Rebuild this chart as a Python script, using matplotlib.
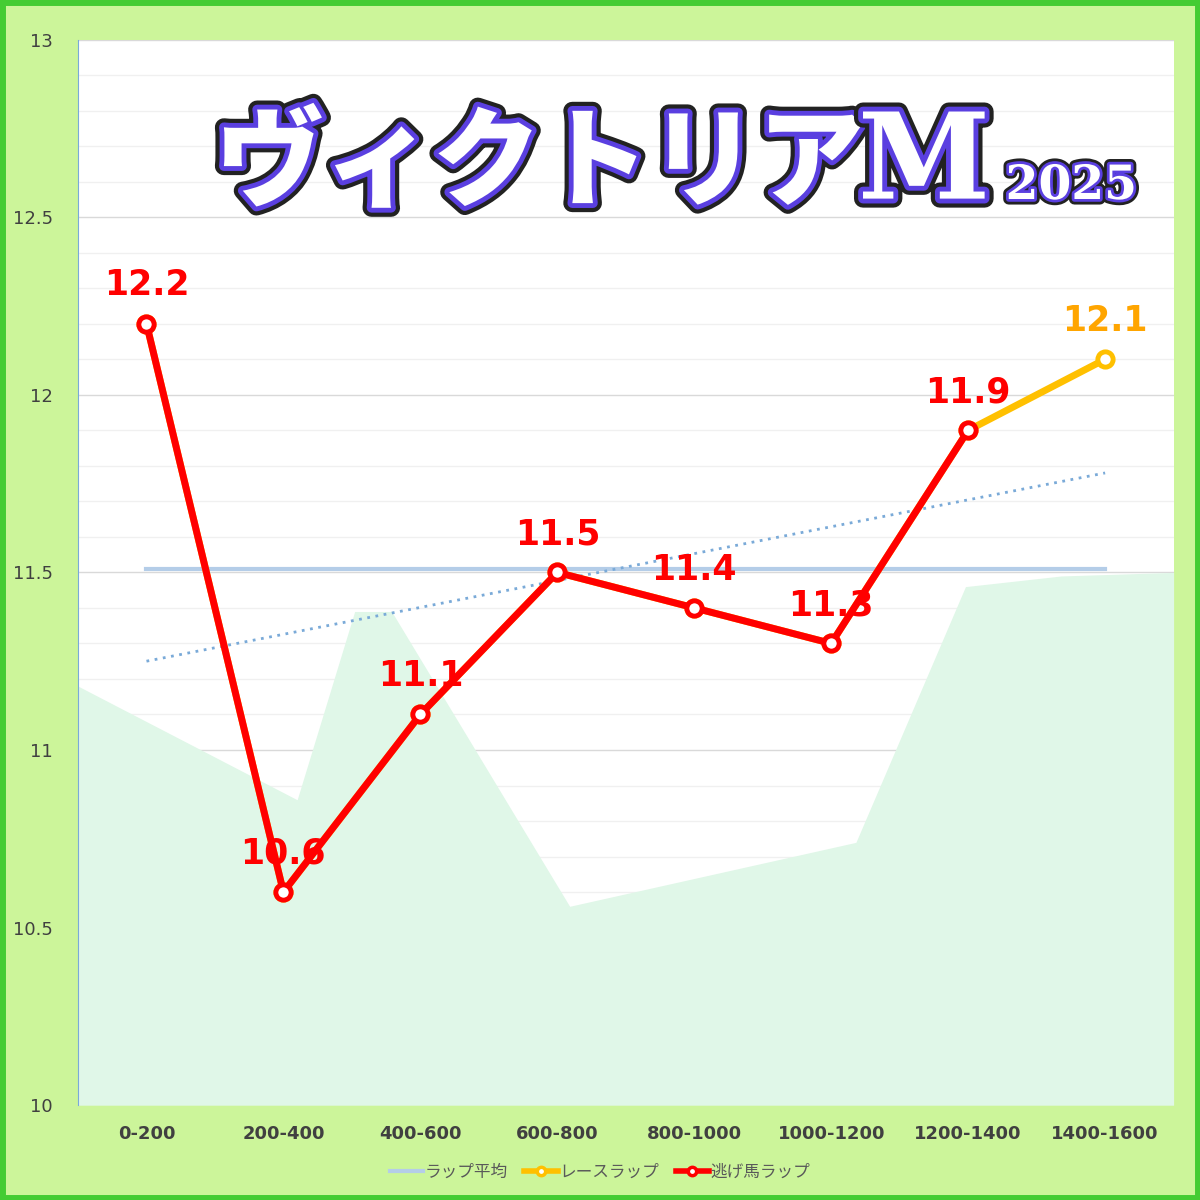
import matplotlib
matplotlib.use("Agg")
import matplotlib.pyplot as plt
import matplotlib.patheffects as pe
from matplotlib.patches import Rectangle
from matplotlib.lines import Line2D

categories = ["0-200","200-400","400-600","600-800","800-1000","1000-1200","1200-1400","1400-1600"]
race_lap = [12.2,10.6,11.1,11.5,11.4,11.3,11.9,12.1]
nige_lap = [12.2,10.6,11.1,11.5,11.4,11.3,11.9]
lap_avg = 11.51
trend_start, trend_end = 11.25, 11.78
bg_x = [-0.5,1.10,1.52,1.79,3.09,5.18,5.98,6.68,7.5]
bg_y = [11.18,10.86,11.39,11.39,10.56,10.74,11.46,11.49,11.5]

fig = plt.figure(figsize=(12,12), dpi=100)
fig.patch.set_facecolor("#ccf59a")
fig.add_artist(Rectangle((0.002,0.002),0.996,0.996,transform=fig.transFigure,fill=False,edgecolor="#44cc33",linewidth=5))
ax = fig.add_axes([0.065,0.079,0.913,0.888])
ax.set_facecolor("white")
ax.set_xlim(-0.5,7.5); ax.set_ylim(10,13)
ax.fill_between(bg_x,bg_y,10,color="#e0f7e8",zorder=1,linewidth=0)
for y in [10+0.1*i for i in range(31)]:
    major = abs(y*2-round(y*2))<1e-6
    ax.axhline(y,color="#d9d9d9" if major else "#f0f0f0",linewidth=1,zorder=0.5)
ax.plot([0,7],[lap_avg,lap_avg],color="#b4cde8",linewidth=3,zorder=2)
ax.plot([0,7],[trend_start,trend_end],color="#7aaad8",linestyle=(0,(1,2)),linewidth=2,zorder=2)
x = list(range(len(categories)))
ax.plot(x,race_lap,color="#ffc000",linewidth=5,marker="o",markersize=11,markerfacecolor="white",markeredgewidth=3.5,zorder=3)
ax.plot(x[:len(nige_lap)],nige_lap,color="#ff0000",linewidth=5,marker="o",markersize=11,markerfacecolor="white",markeredgewidth=3.5,zorder=4)
for i,v in enumerate(race_lap):
    c = "#ff0000" if i < len(nige_lap) else "#ffa500"
    ax.text(i,v+0.06,f"{v}",color=c,fontsize=25,fontweight="bold",ha="center",va="bottom",zorder=5)
ax.set_xticks(x); ax.set_xticklabels(categories,fontsize=13,color="#404040",fontweight="bold")
ax.set_yticks([10,10.5,11,11.5,12,12.5,13])
ax.set_yticklabels(["10","10.5","11","11.5","12","12.5","13"],fontsize=13,color="#404040")
ax.tick_params(length=0,pad=14)
ax.tick_params(axis="y",pad=18)
for s in ["top","right","bottom"]: ax.spines[s].set_visible(False)
ax.spines["left"].set_color("#7aaad8")
eff = [pe.withStroke(linewidth=13,foreground="#222222"),pe.withStroke(linewidth=7,foreground="#5a3fe0")]
fig.text(0.18,0.862,"ヴィクトリア",fontsize=78,fontfamily="Noto Sans CJK JP",fontweight="black",color="white",
         path_effects=eff,va="center")
fig.text(0.715,0.862,"M",fontsize=86,fontfamily="DejaVu Serif",fontweight="bold",color="white",
         path_effects=eff,va="center")
fig.text(0.838,0.845,"2025",fontsize=34,fontfamily="DejaVu Serif",fontweight="bold",color="white",
         path_effects=[pe.withStroke(linewidth=8,foreground="#222222"),pe.withStroke(linewidth=4,foreground="#5a3fe0")],va="center")
h = [Line2D([],[],color="#b4cde8",linewidth=3),
     Line2D([],[],color="#ffc000",linewidth=4,marker="o",markerfacecolor="white",markeredgewidth=2.5),
     Line2D([],[],color="#ff0000",linewidth=4,marker="o",markerfacecolor="white",markeredgewidth=2.5)]
fig.legend(h,["ラップ平均","レースラップ","逃げ馬ラップ"],loc="center",bbox_to_anchor=(0.5,0.023),ncol=3,frameon=False,
           prop={"family":"Noto Sans CJK JP","size":12},labelcolor="#595959",handlelength=2.0,columnspacing=1.0,handletextpad=0.1)
fig.savefig("out.png",facecolor=fig.get_facecolor())
